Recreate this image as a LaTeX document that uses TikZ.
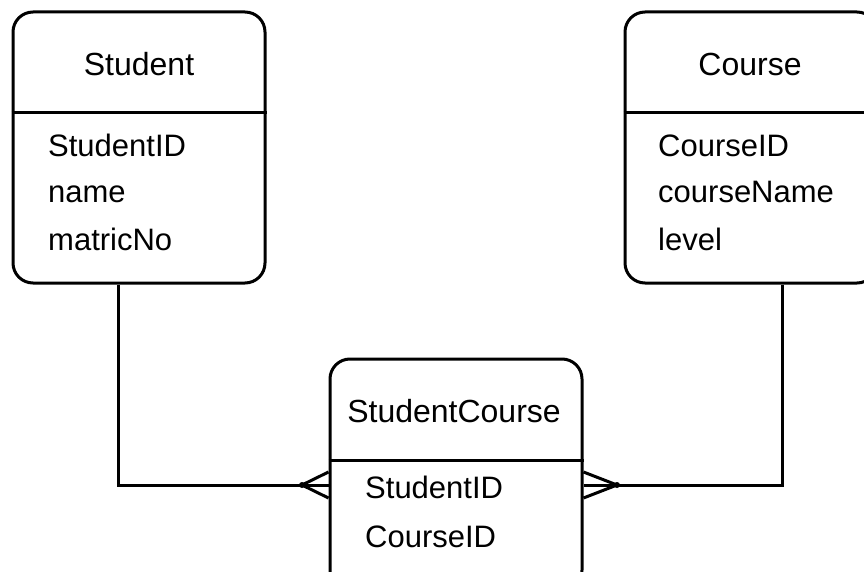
\documentclass[tikz,border=0pt]{standalone}
\usepackage{fontspec}
\setmainfont{Liberation Sans}
\begin{document}
\begin{tikzpicture}[x=1pt,y=-1pt,
  entity/.style={draw, line width=3pt, rounded corners=20pt, inner sep=0pt, anchor=center},
  rule/.style={line width=3pt},
  link/.style={line width=3pt},
  title/.style={anchor=base, inner sep=0pt, font=\fontsize{32}{38}\selectfont},
  attr/.style={anchor=base west, inner sep=0pt, font=\fontsize{31}{37}\selectfont},
  apex/.style={circle, fill, inner sep=0pt, minimum size=6pt}]
\useasboundingbox (0,0) rectangle (864,572);
\clip (0,0) rectangle (864,572);

% entity boxes
\node[entity, minimum width=252pt, minimum height=271pt] (student) at (139,147.5) {};
\node[entity, minimum width=252pt, minimum height=271pt] (course) at (751,147.5) {};
\node[entity, minimum width=252pt, minimum height=231pt] (sc) at (456,474.5) {};

% header dividers
\draw[rule] (student.west |- 0,113) -- (student.east |- 0,113);
\draw[rule] (course.west |- 0,113) -- (course.east |- 0,113);
\draw[rule] (sc.west |- 0,460) -- (sc.east |- 0,460);

% titles
\node[title] (tStudent) at (139,76) {Student};
\node[title] (tCourse) at (750,76) {Course};
\node[title] (tSC) at (454,422) {StudentCourse};

% attributes
\node[attr] (aS1) at (48,157) {StudentID};
\node[attr] (aS2) at (48,203) {name};
\node[attr] (aS3) at (48,250) {matricNo};
\node[attr] (aC1) at (658,157) {CourseID};
\node[attr] (aC2) at (658,203) {courseName};
\node[attr] (aC3) at (658,250) {level};
\node[attr] (aSC1) at (365,498) {StudentID};
\node[attr] (aSC2) at (365,547) {CourseID};

% crow's foot apexes
\node[apex] (footL) at (302,485) {};
\node[apex] (footR) at (617,485) {};

% connectors
\draw[link] (student.south -| 118,0) |- (footL.center) -- (sc.west |- 0,485);
\draw[link] (course.south -| 782,0) |- (footR.center) -- (sc.east |- 0,485);

% many-ends
\draw[link] (footL.center) -- (sc.west |- 0,472);
\draw[link] (footL.center) -- (sc.west |- 0,498);
\draw[link] (footR.center) -- (sc.east |- 0,472);
\draw[link] (footR.center) -- (sc.east |- 0,498);
\end{tikzpicture}
\end{document}
